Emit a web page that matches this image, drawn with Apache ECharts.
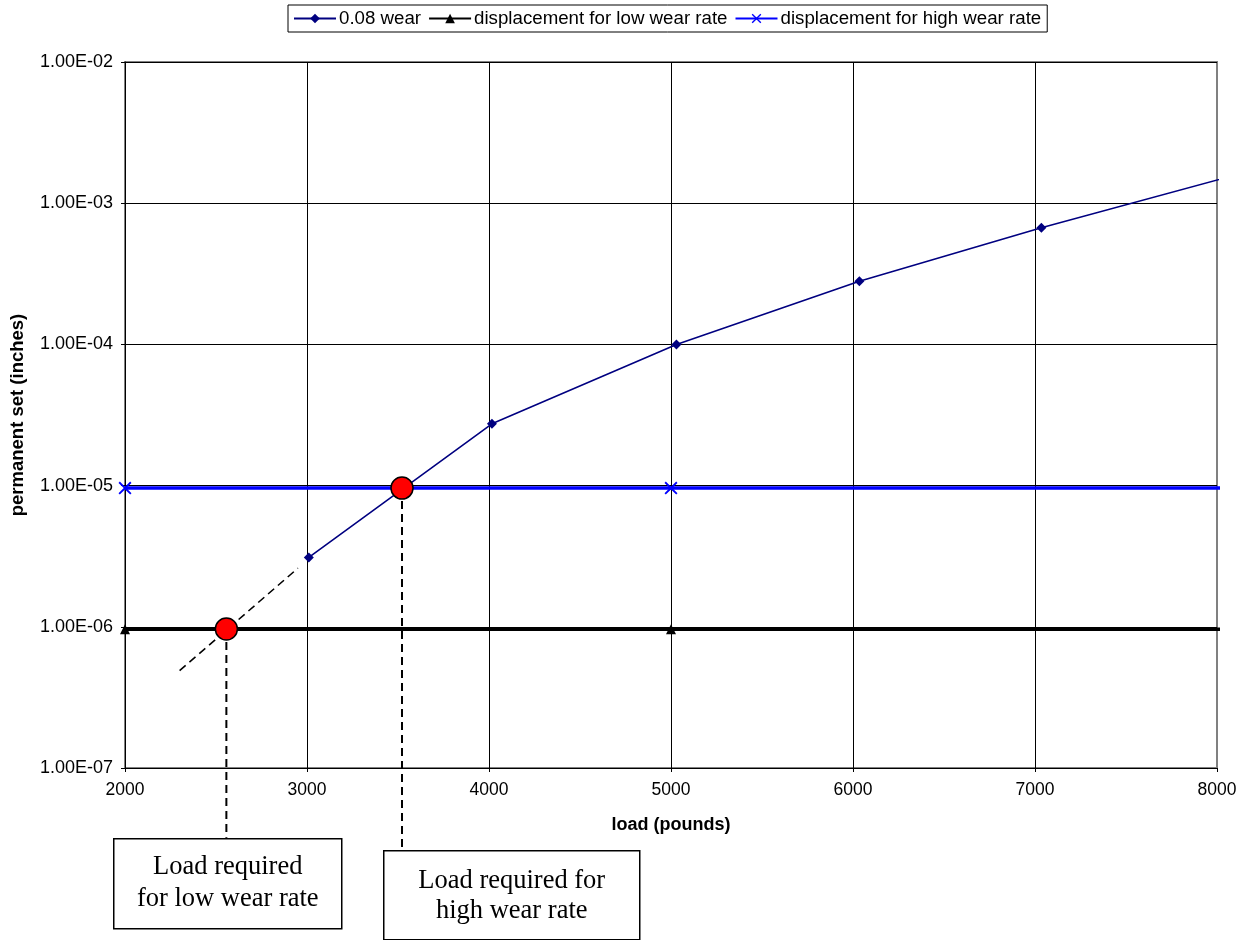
<!DOCTYPE html>
<html>
<head>
<meta charset="utf-8">
<script src="https://cdn.jsdelivr.net/npm/echarts@6/dist/echarts.min.js"></script>
<style>
html,body{margin:0;padding:0;background:#fff;}
#chart{width:1243px;height:940px;}
</style>
</head>
<body>
<div id="chart"></div>
<script>
// ---- data ----
const wearName = '0.08 wear';
const lowName = 'displacement for low wear rate';
const highName = 'displacement for high wear rate';
const wearX = [3010, 4016, 5030, 6035, 7035, 8050];
const wearY = [3.1e-6, 2.74e-5, 1.0e-4, 2.8e-4, 6.7e-4, 1.52e-3];
const lowX = [2000, 5000, 10000];
const lowY = [9.6e-7, 9.6e-7, 9.6e-7];
const highX = [2000, 5000, 10000];
const highY = [9.6e-6, 9.6e-6, 9.6e-6];
const extrapX = [2300, 2950];
const extrapY = [4.9e-7, 2.6e-6];
const hitX = [2557, 3522];
const hitY = [9.65e-7, 9.6e-6];
const dropBottomY = [3.2e-8, 2.62e-8];
const xTicks = {min: 2000, max: 8000, interval: 1000};
const yTicks = {min: 1e-7, max: 1e-2};
const box1Lines = ['Load required', 'for low wear rate'];
const box2Lines = ['Load required for', 'high wear rate'];

const zip = (xs, ys) => xs.map((x, i) => [x, ys[i]]);
function fmtE(v) {
  const s = Number(v).toExponential(2).toUpperCase();
  const [m, e] = s.split('E');
  const neg = e[0] === '-';
  const d = e.replace(/[+-]/, '').padStart(2, '0');
  return m + 'E' + (neg ? '-' : '+') + d;
}
const sans = 'Liberation Sans, Arial, sans-serif';
const serif = 'Liberation Serif, Times New Roman, serif';
const crossPath = 'path://M0,1 L1,0 L5,4 L9,0 L10,1 L6,5 L10,9 L9,10 L5,6 L1,10 L0,9 L4,5 Z';

const chart = echarts.init(document.getElementById('chart'), null, {renderer: 'canvas'});
const option = {
  animation: false,
  backgroundColor: '#fff',
  legend: {
    data: [wearName, lowName, highName],
    left: 288, top: 5,
    itemWidth: 42, itemHeight: 12, itemGap: 7,
    padding: [4, 6, 4, 5],
    borderColor: '#000', borderWidth: 1,
    textStyle: {fontFamily: sans, fontSize: 18.7, color: '#000', padding: [0, 0, 0, -2]}
  },
  grid: {left: 125, top: 62, width: 1092, height: 706, show: true, borderColor: '#808080', borderWidth: 2, containLabel: false},
  xAxis: {
    type: 'value', min: xTicks.min, max: xTicks.max, interval: xTicks.interval,
    name: 'load (pounds)', nameLocation: 'middle', nameGap: 48,
    nameTextStyle: {fontFamily: sans, fontSize: 18, fontWeight: 'bold', color: '#000'},
    axisLine: {show: true, lineStyle: {color: '#000', width: 1}},
    axisTick: {show: true, length: 4, lineStyle: {color: '#000'}},
    axisLabel: {fontFamily: sans, fontSize: 17.5, color: '#000', margin: 13, formatter: v => String(v)},
    splitLine: {show: true, showMaxLine: false, lineStyle: {color: '#000', width: 1}}
  },
  yAxis: {
    type: 'log', logBase: 10, min: yTicks.min, max: yTicks.max,
    name: 'permanent set (inches)', nameLocation: 'middle', nameGap: 98, nameRotate: 90,
    nameTextStyle: {fontFamily: sans, fontSize: 18.5, fontWeight: 'bold', color: '#000'},
    axisLine: {show: true, lineStyle: {color: '#000', width: 1}},
    axisTick: {show: true, length: 4, lineStyle: {color: '#000'}},
    axisLabel: {fontFamily: sans, fontSize: 18, color: '#000', margin: 12, formatter: fmtE},
    splitLine: {show: true, lineStyle: {color: '#000', width: 1}},
    minorTick: {show: false}, minorSplitLine: {show: false}
  },
  series: [
    {
      name: highName, type: 'line', data: zip(highX, highY), clip: true,
      symbol: crossPath, symbolSize: 13,
      lineStyle: {color: '#0000FF', width: 3.5}, itemStyle: {color: '#0000FF'}, z: 3
    },
    {
      name: lowName, type: 'line', data: zip(lowX, lowY), clip: true,
      symbol: 'triangle', symbolSize: 10,
      lineStyle: {color: '#000', width: 3.5}, itemStyle: {color: '#000'}, z: 3
    },
    {
      name: wearName, type: 'line', data: zip(wearX, wearY), clip: true,
      symbol: 'diamond', symbolSize: 10,
      lineStyle: {color: '#000080', width: 1.6}, itemStyle: {color: '#000080'}, z: 4
    },
    {
      name: 'extrap', type: 'line', data: zip(extrapX, extrapY), clip: false,
      symbol: 'none', lineStyle: {color: '#000', width: 1.6, type: [8, 5]}, z: 4
    },
    {
      name: 'drop1', type: 'line', data: [[hitX[0], hitY[0]], [hitX[0], dropBottomY[0]]], clip: false,
      symbol: 'none', lineStyle: {color: '#000', width: 2, type: [8, 5]}, z: 4
    },
    {
      name: 'drop2', type: 'line', data: [[hitX[1], hitY[1]], [hitX[1], dropBottomY[1]]], clip: false,
      symbol: 'none', lineStyle: {color: '#000', width: 2, type: [8, 5]}, z: 4
    },
    {
      name: 'hits', type: 'scatter', data: zip(hitX, hitY), clip: false,
      symbol: 'circle', symbolSize: 22,
      itemStyle: {color: '#FF0000', opacity: 1, borderColor: '#000', borderWidth: 1.5}, z: 6
    }
  ],
  graphic: [
    {
      type: 'group', left: 113, top: 838, children: [
        {type: 'rect', shape: {x: 0, y: 0, width: 228, height: 90}, style: {fill: '#fff', stroke: '#000', lineWidth: 1.5}},
        {type: 'text', style: {x: 114, y: 28, text: box1Lines[0], fontFamily: serif, fontSize: 26.5, fill: '#000', align: 'center', verticalAlign: 'middle'}},
        {type: 'text', style: {x: 114, y: 60, text: box1Lines[1], fontFamily: serif, fontSize: 26.5, fill: '#000', align: 'center', verticalAlign: 'middle'}}
      ]
    },
    {
      type: 'group', left: 383, top: 850, children: [
        {type: 'rect', shape: {x: 0, y: 0, width: 256, height: 89}, style: {fill: '#fff', stroke: '#000', lineWidth: 1.5}},
        {type: 'text', style: {x: 128, y: 30, text: box2Lines[0], fontFamily: serif, fontSize: 26.5, fill: '#000', align: 'center', verticalAlign: 'middle'}},
        {type: 'text', style: {x: 128, y: 60, text: box2Lines[1], fontFamily: serif, fontSize: 26.5, fill: '#000', align: 'center', verticalAlign: 'middle'}}
      ]
    }
  ]
};
chart.setOption(option);
</script>
</body>
</html>
